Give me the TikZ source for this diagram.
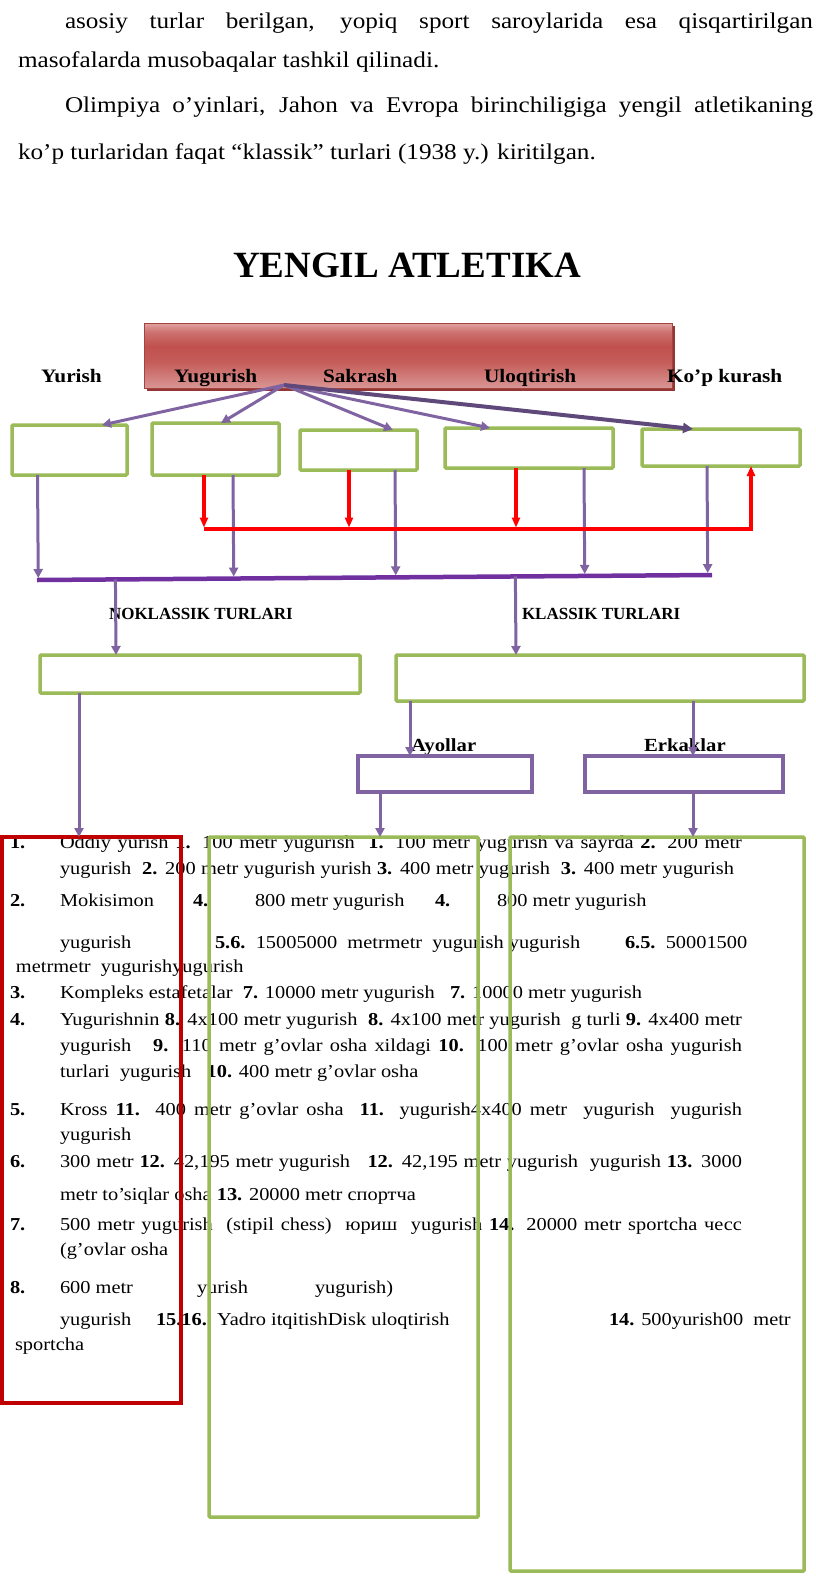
\documentclass[tikz,border=0pt]{standalone}
\usepackage{fontspec}
\setmainfont{Liberation Serif}
\newfontfamily\wf[FakeStretch=1.12]{Liberation Serif}
\usetikzlibrary{arrows.meta,calc}
\definecolor{gbox}{HTML}{9BBB59}
\definecolor{pur}{HTML}{8064A2}
\definecolor{dpur}{HTML}{5F497A}
\definecolor{barpur}{HTML}{7030A0}
\definecolor{rbox}{HTML}{C00000}
\definecolor{bantop}{HTML}{E0A3A2}
\definecolor{banmid}{HTML}{C0504D}
\definecolor{banbot}{HTML}{D99694}
\definecolor{banshadow}{HTML}{943634}
\pgfdeclareverticalshading{banshade}{100bp}{color(0bp)=(banbot); color(25bp)=(banbot); color(45bp)=(banmid!82!banbot); color(57bp)=(banmid); color(68bp)=(banmid!60!bantop); color(75bp)=(bantop); color(100bp)=(bantop)}
\begin{document}
\begin{tikzpicture}[x=1pt,y=-1pt,
  every node/.style={inner sep=0pt,outer sep=0pt},
  txt/.style={anchor=base west,font=\wf\fontsize{18.2}{21}\selectfont},
  ptxt/.style={anchor=base west,font=\wf\fontsize{22.5}{26}\selectfont},
  lbl/.style={anchor=base west,font=\wf\bfseries\fontsize{19}{22}\selectfont},
  sublbl/.style={anchor=base west,font=\wf\bfseries\fontsize{18.5}{22}\selectfont},
  klbl/.style={anchor=base west,font=\bfseries\fontsize{17}{20}\selectfont},
  gbx/.style={draw=gbox,line width=3.5pt,rectangle,rounded corners=1pt},
  pbx/.style={draw=pur,line width=3.5pt,rectangle},
  rbx/.style={draw=rbox,line width=4pt,rectangle},
  parr/.style={draw=pur,line width=3pt,-{Triangle[length=9pt,width=9pt]}},
  darr/.style={draw=dpur,line width=4pt,-{Triangle[length=10pt,width=10pt]}},
  rarr/.style={draw=red,line width=3.2pt,-{Triangle[length=10pt,width=8pt]}},
]
\fill[white] (0,0) rectangle (816,1577);
\useasboundingbox (0,0) rectangle (816,1577);

% paragraph
\node[ptxt] (p1) at (65,28) {\makebox[748pt][s]{asosiy turlar berilgan, yopiq sport saroylarida esa qisqartirilgan}};
\node[ptxt] (p2) at (18,67) {masofalarda musobaqalar tashkil qilinadi.};
\node[ptxt] (p3) at (65,112) {\makebox[748pt][s]{Olimpiya o’yinlari, Jahon va Evropa birinchiligiga yengil atletikaning}};
\node[ptxt] (p4) at (18,159) {ko’p turlaridan faqat “klassik” turlari (1938 y.) kiritilgan.};

% title
\node[anchor=base,font=\bfseries\fontsize{37}{40}\selectfont] (title) at (407,277) {YENGIL ATLETIKA};

% banner
\fill[banshadow] (147,326) rectangle (675,391);
\node[minimum width=528pt,minimum height=65pt,shading=banshade,draw=banmid!85!black,line width=0.6pt] (ban) at (408,355.5) {};

\node[lbl] (y1) at (41,382) {Yurish};
\node[lbl] (y2) at (174,382) {Yugurish};
\node[lbl] (y3) at (323,382) {Sakrash};
\node[lbl] (y4) at (484,382) {Uloqtirish};
\node[lbl] (y5) at (667,382) {Ko’p kurash};

% first row boxes
\node[gbx,minimum width=115pt,minimum height=50pt] (b1) at (69.5,450) {};
\node[gbx,minimum width=127pt,minimum height=52pt] (b2) at (215.5,449) {};
\node[gbx,minimum width=117pt,minimum height=40pt] (b3) at (358.5,450) {};
\node[gbx,minimum width=168pt,minimum height=40pt] (b4) at (529,448) {};
\node[gbx,minimum width=158pt,minimum height=37pt] (b5) at (721,447.5) {};

% fan arrows
\coordinate (o) at (284,385);
\draw[parr] (o) -- ($(b1.north west)+(90,0)$);
\draw[parr] (o) -- ($(b2.north west)+(69,0)$);
\draw[parr] (o) -- ($(b3.north west)+(93,0)$);
\draw[parr] (o) -- ($(b4.north west)+(45,0)$);
\draw[darr] (o) -- ($(b5.north west)+(51,0)$);

% bar
\coordinate (bl) at (37,580);
\coordinate (br) at (712,575);
\coordinate (v1) at ($(b1.south west)+(25.5,0)$);
\coordinate (v2) at ($(b2.south west)+(81,0)$);
\coordinate (v3) at ($(b3.south west)+(95,0)$);
\coordinate (v4) at ($(b4.south west)+(139,0)$);
\coordinate (v5) at ($(b5.south west)+(65,0)$);
\draw[parr,shorten >=2pt] (v1) -- ($(bl)!(v1)!(br)$);
\draw[parr,shorten >=2pt] (v2) -- ($(bl)!(v2)!(br)$);
\draw[parr,shorten >=2pt] (v3) -- ($(bl)!(v3)!(br)$);
\draw[parr,shorten >=2pt] (v4) -- ($(bl)!(v4)!(br)$);
\draw[parr,shorten >=2pt] (v5) -- ($(bl)!(v5)!(br)$);
\draw[barpur,line width=4.5pt] (bl) -- (br);

% red connectors
\coordinate (r1) at ($(b2.south west)+(52,0)$);
\coordinate (r2) at ($(b3.south west)+(49,0)$);
\coordinate (r3) at ($(b4.south west)+(71,0)$);
\coordinate (r4) at ($(b5.south west)+(109,0)$);
\coordinate (rl) at (204,529);
\coordinate (rr) at (751,529);
\draw[rarr,shorten >=1.5pt] (r1) -- (rl);
\draw[rarr,shorten >=1.5pt] (r2) -- (r2 |- rl);
\draw[rarr,shorten >=1.5pt] (r3) -- (r3 |- rl);
\draw[rarr] (rl) -- (rr) -- (r4);

% classic / non-classic
\node[klbl] (nk) at (109,619) {NOKLASSIK TURLARI};
\node[klbl] (kl) at (522,619) {KLASSIK TURLARI};
\node[gbx,minimum width=320pt,minimum height=38pt] (b6) at (200,674) {};
\node[gbx,minimum width=408pt,minimum height=46pt] (b7) at (600,678) {};
\coordinate (c6) at ($(b6.north west)+(76,0)$);
\coordinate (c7) at ($(b7.north west)+(120,0)$);
\draw[parr] ($(bl)!(c6)!(br)$) -- (c6);
\draw[parr] ($(bl)!(c7)!(br)$) -- (c7);

\node[sublbl] (ay) at (411,751) {Ayollar};
\node[sublbl] (er) at (644,751) {Erkaklar};
\node[pbx,minimum width=174pt,minimum height=36pt] (b8) at (445,774) {};
\node[pbx,minimum width=198pt,minimum height=36pt] (b9) at (684,774) {};

% lower text
\node[txt] (num1) at (10,848) {\textbf{1.}};
\node[txt] (l1) at (60,848) {\makebox[682pt][s]{Oddiy yurish \textbf{1.} 100 metr yugurish\ \ \textbf{1.} 100 metr yugurish\ va sayrda \textbf{2.} 200 metr}};
\node[txt] (l2) at (60,874) {\makebox[674pt][s]{yugurish\ \ \textbf{2.} 200 metr yugurish yurish \textbf{3.} 400 metr yugurish\ \ \textbf{3.} 400 metr yugurish}};
\node[txt] (num2) at (10,906) {\textbf{2.}};
\node[txt] (l3a) at (60,906) {Mokisimon};
\node[txt] (l3b) at (193,906) {\textbf{4.}};
\node[txt] (l3c) at (255,906) {800 metr yugurish};
\node[txt] (l3d) at (435,906) {\textbf{4.}};
\node[txt] (l3e) at (497,906) {800 metr yugurish};
\node[txt] (l4a) at (60,948) {yugurish};
\node[txt] (l4b) at (215,948) {\textbf{5.6.}\ \ 15005000\ \ metrmetr\ \ yugurish yugurish};
\node[txt] (l4c) at (625,948) {\textbf{6.5.}\ \ 50001500};
\node[txt] (l5) at (16,972) {metrmetr\ \ yugurishyugurish};
\node[txt] (num3) at (10,998) {\textbf{3.}};
\node[txt] (l6) at (60,998) {Kompleks estafetalar\ \ \textbf{7.} 10000 metr yugurish\ \ \ \textbf{7.} 10000 metr yugurish};
\node[txt] (num4) at (10,1025) {\textbf{4.}};
\node[txt] (l7) at (60,1025) {\makebox[682pt][s]{Yugurishnin \textbf{8.} 4x100 metr yugurish\ \ \textbf{8.} 4x100 metr yugurish\ \ g turli \textbf{9.} 4x400 metr}};
\node[txt] (l8) at (60,1051) {\makebox[682pt][s]{yugurish\ \ \ \textbf{9.} 110 metr g’ovlar osha xildagi \textbf{10.} 100 metr g’ovlar osha yugurish}};
\node[txt] (l9) at (60,1077) {turlari\ \ yugurish\ \ \ \textbf{10.} 400 metr g’ovlar osha};
\node[txt] (num5) at (10,1115) {\textbf{5.}};
\node[txt] (l10) at (60,1115) {\makebox[682pt][s]{Kross \textbf{11.} 400 metr g’ovlar osha\ \ \textbf{11.} yugurish4x400 metr\ \ yugurish\ \ yugurish}};
\node[txt] (l11) at (60,1140) {yugurish};
\node[txt] (num6) at (10,1167) {\textbf{6.}};
\node[txt] (l12) at (60,1167) {\makebox[682pt][s]{300 metr \textbf{12.} 42,195 metr yugurish\ \ \ \textbf{12.} 42,195 metr yugurish\ \ yugurish \textbf{13.} 3000}};
\node[txt] (l13) at (60,1200) {metr to’siqlar osha \textbf{13.} 20000 metr спортча};
\node[txt] (num7) at (10,1230) {\textbf{7.}};
\node[txt] (l14) at (60,1230) {\makebox[682pt][s]{500 metr yugurish\ \ (stipil chess)\ \ юриш\ \ yugurish \textbf{14.} 20000 metr sportcha чесс}};
\node[txt] (l15) at (60,1255) {(g’ovlar osha};
\node[txt] (num8) at (10,1293) {\textbf{8.}};
\node[txt] (l16a) at (60,1293) {600 metr};
\node[txt] (l16b) at (197,1293) {yurish};
\node[txt] (l16c) at (315,1293) {yugurish)};
\node[txt] (l17a) at (60,1325) {yugurish};
\node[txt] (l17b) at (156,1325) {\textbf{15.16.}\ \ Yadro itqitishDisk uloqtirish};
\node[txt] (l17c) at (609,1325) {\textbf{14.} 500yurish00\ \ metr};
\node[txt] (l18) at (15,1350) {sportcha};

% bottom boxes
\node[rbx,minimum width=179pt,minimum height=566pt] (R) at (91.5,1120) {};
\node[gbx,minimum width=269pt,minimum height=680pt] (G2) at (343.5,1177) {};
\node[gbx,minimum width=294pt,minimum height=734pt] (G3) at (657,1204) {};

% lower connectors
\coordinate (s6) at ($(b6.south west)+(39,0)$);
\coordinate (s7a) at ($(b7.south west)+(14,0)$);
\coordinate (s7b) at ($(b7.south west)+(297,0)$);
\coordinate (s8) at ($(b8.south west)+(22,0)$);
\coordinate (s9) at ($(b9.south west)+(108,0)$);
\draw[parr] (s6) -- (s6 |- R.north);
\draw[parr] (s7a) -- (s7a |- b8.north);
\draw[parr] (s7b) -- (s7b |- b9.north);
\draw[parr] (s8) -- (s8 |- G2.north);
\draw[parr] (s9) -- (s9 |- G3.north);
\end{tikzpicture}
\end{document}
